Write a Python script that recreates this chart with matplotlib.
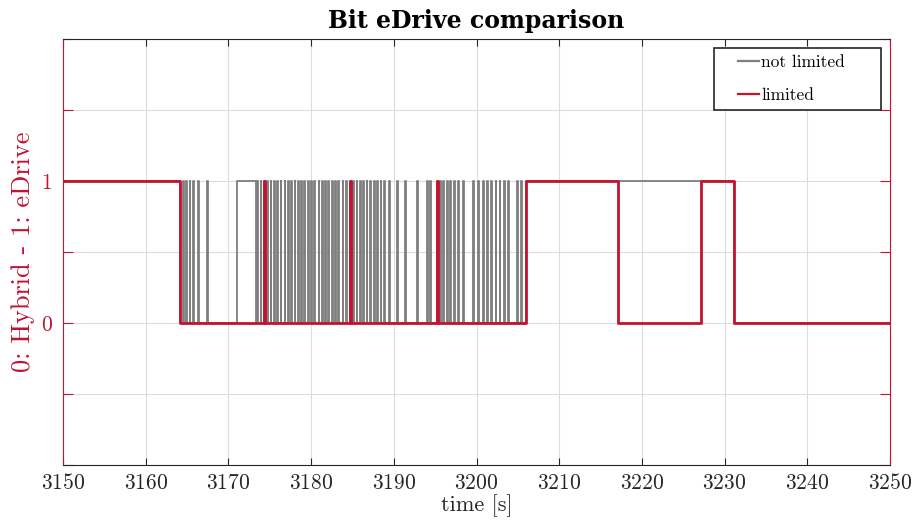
import numpy as np
import matplotlib
matplotlib.use("Agg")
from matplotlib import pyplot as plt
from matplotlib.patches import Rectangle

plt.rcParams['font.family'] = ['cmr10', 'DejaVu Serif']
plt.rcParams['axes.formatter.use_mathtext'] = True
plt.rcParams['mathtext.fontset'] = 'cm'

# state switches of the eDrive bit (starts at 1)
limited_edges = [3164.2, 3174.3, 3174.4, 3184.7, 3184.8, 3195.2, 3195.3,
                 3206.0, 3217.1, 3227.1, 3231.1]

# not limited signal: short pulses to 1 while mostly in hybrid
not_limited_pulses = [3164.5, 3164.9, 3165.3, 3165.7, 3166.3, 3167.4,
                      3173.5, 3173.9, 3174.3, 3174.7, 3175.1, 3175.5, 3175.9,
                      3176.3, 3176.8, 3177.2, 3177.6, 3178.0, 3178.4, 3178.8,
                      3179.2, 3179.6, 3180.0, 3180.4, 3180.9, 3181.3, 3181.7,
                      3182.1, 3182.5, 3182.9, 3183.3, 3183.8, 3184.2, 3184.7,
                      3185.1, 3185.5, 3185.9, 3186.3, 3186.7, 3187.1, 3187.6,
                      3188.0, 3188.4, 3188.8, 3189.4, 3190.4, 3191.4, 3192.8,
                      3194.0, 3194.4, 3195.2, 3195.6, 3196.0, 3196.4, 3196.8,
                      3197.3, 3197.8, 3198.4, 3199.6, 3200.2, 3200.8, 3201.3,
                      3201.8, 3202.3, 3202.8, 3203.3, 3203.8, 3204.9, 3205.4]
not_limited_high = [(3150.0, 3164.2), (3171.0, 3173.3), (3206.0, 3231.1)]

t_start = 3150
t_end = 3250
pulse_w = 0.1

red = '#C41230'
gray = '#7F7F7F'
dark = '#262626'


def edges_to_step(edges, start_val):
    t = [t_start]
    v = [start_val]
    val = start_val
    for e in edges:
        val = 1 - val
        t.append(e)
        v.append(val)
    t.append(t_end)
    v.append(val)
    return np.array(t), np.array(v)


def pulses_to_step(pulses, highs):
    segs = [(p, p + pulse_w) for p in pulses] + list(highs)
    segs.sort()
    edges = []
    for a, b in segs:
        edges += [a, b]
    if edges[0] == t_start:
        return edges_to_step(edges[1:], 1)
    return edges_to_step(edges, 0)


t_nl, v_nl = pulses_to_step(not_limited_pulses, not_limited_high)
t_l, v_l = edges_to_step(limited_edges, 1)

fig = plt.figure(figsize=(9.24, 5.22), dpi=100)
ax = fig.add_axes([0.0682, 0.1092, 0.8950, 0.8161])

ax.plot(t_nl, v_nl, drawstyle='steps-post', color=gray, lw=1.3, label='not limited')
ax.plot(t_l, v_l, drawstyle='steps-post', color=red, lw=2.0, label='limited')

ax.set_xlim(t_start, t_end)
ax.set_ylim(-1, 2)
ax.set_xticks(np.arange(3150, 3251, 10))
ax.set_yticks([-1, -0.5, 0, 0.5, 1, 1.5, 2])
ax.set_yticklabels(['', '', '0', '', '1', '', ''])

ax.grid(True, color='#DCDCDC', lw=0.8)
ax.set_axisbelow(True)

for side in ['left', 'right']:
    ax.spines[side].set_color(red)
for side in ['top', 'bottom']:
    ax.spines[side].set_color(dark)
for s in ax.spines.values():
    s.set_linewidth(0.8)

ax.tick_params(axis='x', direction='in', top=True, length=5, width=0.8,
               colors=dark, labelsize=15.5, pad=6)
ax.tick_params(axis='y', direction='in', right=True, length=7, width=0.8,
               colors=red, labelsize=15.5, pad=8)

ax.set_xlabel('time [s]', fontsize=16, color=dark, labelpad=1)
ax.set_ylabel('0: Hybrid - 1: eDrive', fontsize=19, color=red, labelpad=4)
ax.set_title('Bit eDrive comparison', fontsize=17, fontweight='bold',
             family='DejaVu Serif', pad=8)

# legend box drawn separately so it keeps the wide padding
box = Rectangle((0.787, 0.833), 0.202, 0.146, transform=ax.transAxes,
                facecolor='white', edgecolor=dark, lw=1.2, zorder=5)
ax.add_patch(box)
leg = ax.legend(loc='center left', bbox_to_anchor=(0.816, 0.906), fontsize=12.5,
                frameon=False, handlelength=1.2, handletextpad=0.15,
                borderpad=0, labelspacing=1.0, borderaxespad=0)
leg.set_zorder(6)
for h in leg.get_lines():
    h.set_linewidth(1.6)

plt.savefig('out.png', dpi=100)
plt.close()
